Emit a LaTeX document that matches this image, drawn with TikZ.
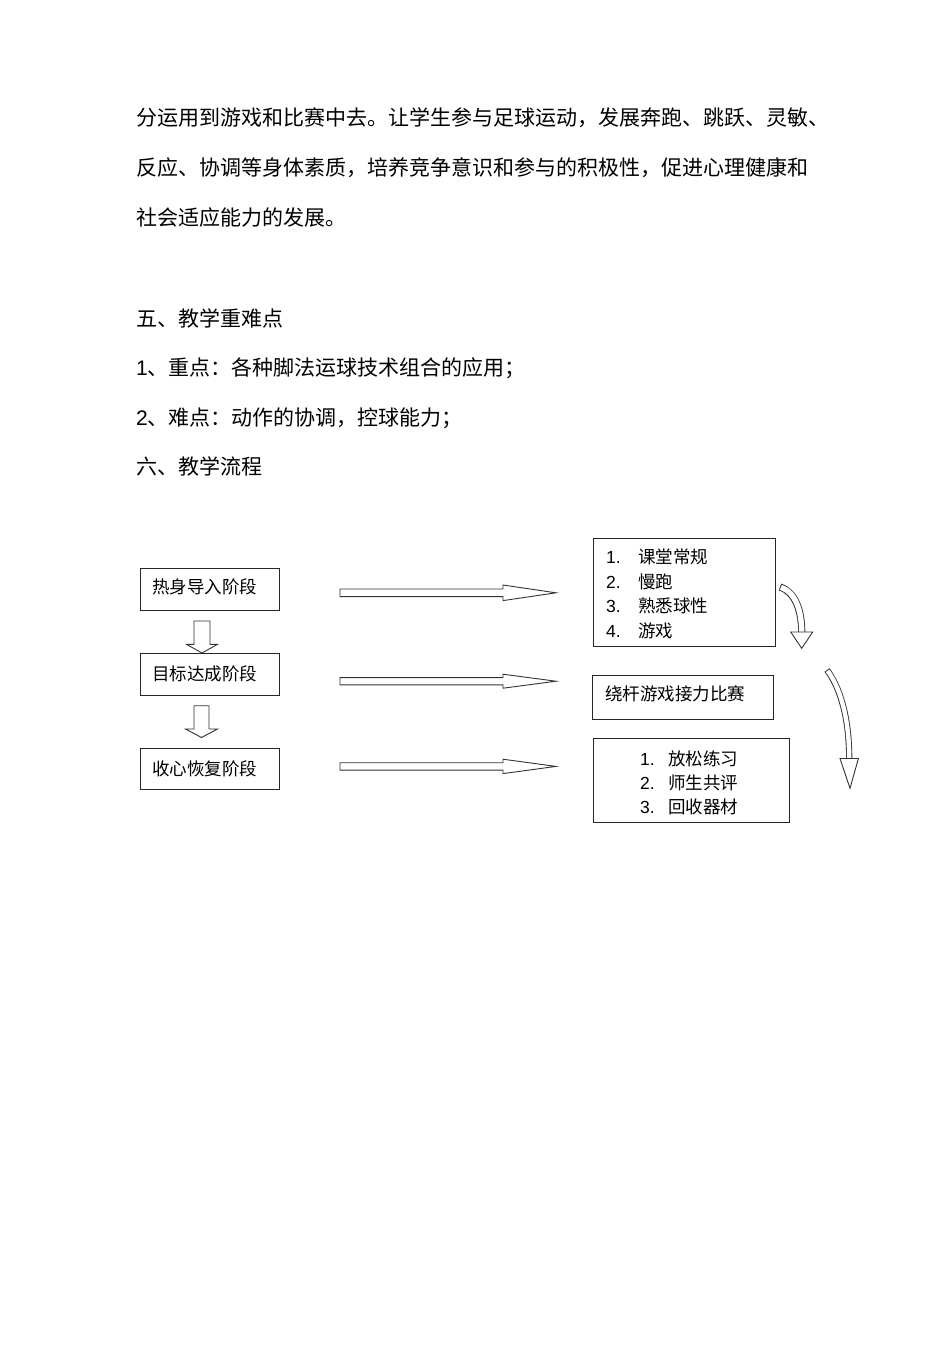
\documentclass[tikz,border=0pt]{standalone}
\usepackage{fontspec}
\setmainfont{Noto Sans CJK SC}
\newfontfamily\latf{Liberation Sans}
\usetikzlibrary{calc}
\begin{document}
\begin{tikzpicture}[x=1pt,y=-1pt,
  body/.style={anchor=base west, inner sep=0pt, font=\fontsize{21}{21}\selectfont},
  lbl/.style={anchor=base west, inner sep=0pt, font=\fontsize{17.5}{17.5}\selectfont},
  box/.style={draw=black!85, line width=0.9pt, inner sep=0pt, anchor=north west},
  blk/.style={draw=black!80, line width=0.9pt, fill=white, line join=miter},
]
\fill[white] (0,0) rectangle (950,1345);
\useasboundingbox (0,0) rectangle (950,1345);

% body text
\node[body] (p1) at (136,125) {分运用到游戏和比赛中去。让学生参与足球运动，发展奔跑、跳跃、灵敏、};
\node[body] (p2) at (136,175) {反应、协调等身体素质，培养竞争意识和参与的积极性，促进心理健康和};
\node[body] (p3) at (136,225) {社会适应能力的发展。};
\node[body] (h5) at (136,326) {五、教学重难点};
\node[body] (k1) at (136,375.5) {{\latf 1}、重点：各种脚法运球技术组合的应用；};
\node[body] (k2) at (136,425) {{\latf 2}、难点：动作的协调，控球能力；};
\node[body] (h6) at (136,474.5) {六、教学流程};

% left boxes
\node[box, minimum width=139pt, minimum height=42.5pt] (b1) at (140,567.5) {};
\node[box, minimum width=139pt, minimum height=42pt] (b2) at (140,652.7) {};
\node[box, minimum width=139pt, minimum height=40.7pt] (b3) at (140,748.3) {};
\node[lbl] (t1) at (152,593.3) {热身导入阶段};
\node[lbl] (t2) at (152,680) {目标达成阶段};
\node[lbl] (t3) at (152,775) {收心恢复阶段};

% right boxes
\node[box, minimum width=182.3pt, minimum height=107.7pt] (bA) at (592.7,538.3) {};
\node[box, minimum width=181pt, minimum height=44pt] (bB) at (591.7,675) {};
\node[box, minimum width=196.3pt, minimum height=83.7pt] (bC) at (592.7,738.3) {};

\node[lbl] (a1n) at (606,563.3) {\latf 1.};
\node[lbl] (a1t) at (638,563.3) {课堂常规};
\node[lbl] (a2n) at (606,588.3) {\latf 2.};
\node[lbl] (a2t) at (638,588.3) {慢跑};
\node[lbl] (a3n) at (606,612.6) {\latf 3.};
\node[lbl] (a3t) at (638,612.6) {熟悉球性};
\node[lbl] (a4n) at (606,637.6) {\latf 4.};
\node[lbl] (a4t) at (638,637.6) {游戏};

\node[lbl] (bt) at (605,700) {绕杆游戏接力比赛};

\node[lbl] (c1n) at (640,765.6) {\latf 1.};
\node[lbl] (c1t) at (668,765.6) {放松练习};
\node[lbl] (c2n) at (640,789.6) {\latf 2.};
\node[lbl] (c2t) at (668,789.6) {师生共评};
\node[lbl] (c3n) at (640,813.6) {\latf 3.};
\node[lbl] (c3t) at (668,813.6) {回收器材};

% down block arrows
\coordinate (d1s) at (202,621);
\coordinate (d1e) at (202,653);
\draw[blk] ($(d1s)+(-8,0)$) -- ($(d1s)+(8,0)$) -- ($(d1e)+(8,-8.7)$) -- ($(d1e)+(15.5,-8.7)$)
  -- (d1e) -- ($(d1e)+(-15.5,-8.7)$) -- ($(d1e)+(-8,-8.7)$) -- cycle;
\coordinate (d2s) at (201.5,705.7);
\coordinate (d2e) at (201.5,737.5);
\draw[blk] ($(d2s)+(-7.5,0)$) -- ($(d2s)+(7.5,0)$) -- ($(d2e)+(7.5,-8.5)$) -- ($(d2e)+(16,-8.5)$)
  -- (d2e) -- ($(d2e)+(-16,-8.5)$) -- ($(d2e)+(-7.5,-8.5)$) -- cycle;

% right block arrows
\coordinate (r1s) at (340,592.8);
\coordinate (r1e) at (556,592.8);
\draw[blk] ($(r1s)+(0,-3.8)$) -- ($(r1e)+(-53,-3.8)$) -- ($(r1e)+(-53,-7.8)$) -- (r1e)
  -- ($(r1e)+(-53,7.8)$) -- ($(r1e)+(-53,3.8)$) -- ($(r1s)+(0,3.8)$) -- cycle;
\coordinate (r2s) at (340,681.2);
\coordinate (r2e) at (556,681.2);
\draw[blk] ($(r2s)+(0,-3.6)$) -- ($(r2e)+(-53,-3.6)$) -- ($(r2e)+(-53,-7)$) -- (r2e)
  -- ($(r2e)+(-53,7)$) -- ($(r2e)+(-53,3.6)$) -- ($(r2s)+(0,3.6)$) -- cycle;
\coordinate (r3s) at (340,766.4);
\coordinate (r3e) at (556,766.4);
\draw[blk] ($(r3s)+(0,-3.7)$) -- ($(r3e)+(-53,-3.7)$) -- ($(r3e)+(-53,-7.2)$) -- (r3e)
  -- ($(r3e)+(-53,7.2)$) -- ($(r3e)+(-53,3.7)$) -- ($(r3s)+(0,3.7)$) -- cycle;

% curved arrows
\coordinate (c1s) at (780,587);
\coordinate (c1b) at (801.7,632);
\coordinate (c1e) at (801.7,648.3);
\draw[line width=7.2pt, black!80] (c1s) .. controls (795,592) and (801.7,610) .. (c1b);
\draw[line width=5.4pt, white, shorten <=1pt] (c1s) .. controls (795,592) and (801.7,610) .. (c1b);
\draw[blk] ($(c1b)+(-11,0)$) -- ($(c1b)+(11,0)$) -- (c1e) -- cycle;

\coordinate (c2s) at (827,670);
\coordinate (c2b) at (849.2,758.5);
\coordinate (c2e) at (850,788.3);
\draw[line width=6.2pt, black!80] (c2s) .. controls (839,686) and (849.2,715) .. (c2b);
\draw[line width=4.4pt, white, shorten <=1pt] (c2s) .. controls (839,686) and (849.2,715) .. (c2b);
\draw[blk] ($(c2b)+(-9.2,0)$) -- ($(c2b)+(9.2,0)$) -- (c2e) -- cycle;
\end{tikzpicture}
\end{document}
